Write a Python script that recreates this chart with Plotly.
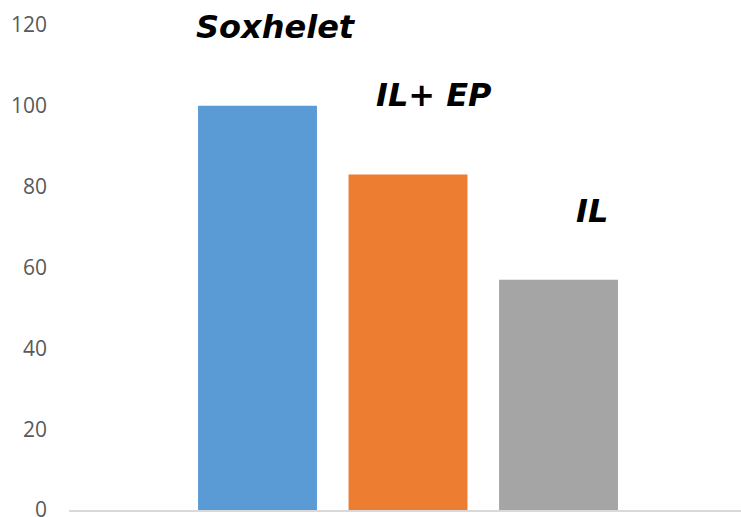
import plotly.graph_objects as go

# Extraction methods and their relative yields
methods = ["Soxhelet", "IL+ EP", "IL"]
yields = [100, 83, 57]
colors = ["#5B9BD5", "#ED7D31", "#A5A5A5"]
positions = [1, 2, 3]
y_ticks = [0, 20, 40, 60, 80, 100, 120]

fig = go.Figure()
fig.add_trace(go.Bar(
    x=positions,
    y=yields,
    marker=dict(color=colors, line=dict(width=0)),
    width=0.79,
    hoverinfo="skip",
))

# Method names floating above and to the right of each bar
label_offsets = [(0.12, 19.5), (0.175, 19.8), (0.225, 17.0)]
for pos, val, name, (dx, dy) in zip(positions, yields, methods, label_offsets):
    fig.add_annotation(
        x=pos + dx, y=val + dy, xref="x", yref="y",
        text=f"<b><i>{name}</i></b>", showarrow=False,
        font=dict(family="DejaVu Sans", size=32, color="#000000"),
        xanchor="center", yanchor="middle",
    )

fig.update_layout(
    width=741, height=517,
    margin=dict(l=69, r=0, t=25, b=7),
    paper_bgcolor="white", plot_bgcolor="white",
    showlegend=False,
    xaxis=dict(
        range=[-0.2525, 4.2125], showticklabels=False, showgrid=False,
        zeroline=False, showline=True, linecolor="#D9D9D9", linewidth=2,
        ticks="", automargin=False,
    ),
    yaxis=dict(
        range=[0, 120], tickvals=y_ticks, showgrid=False, zeroline=False,
        showline=False, ticks="", ticklabelstandoff=21,
        ticklabeloverflow="allow", automargin=False,
        tickfont=dict(family="Open Sans", size=21, color="#595959"),
    ),
)

fig.write_html("out.html")
